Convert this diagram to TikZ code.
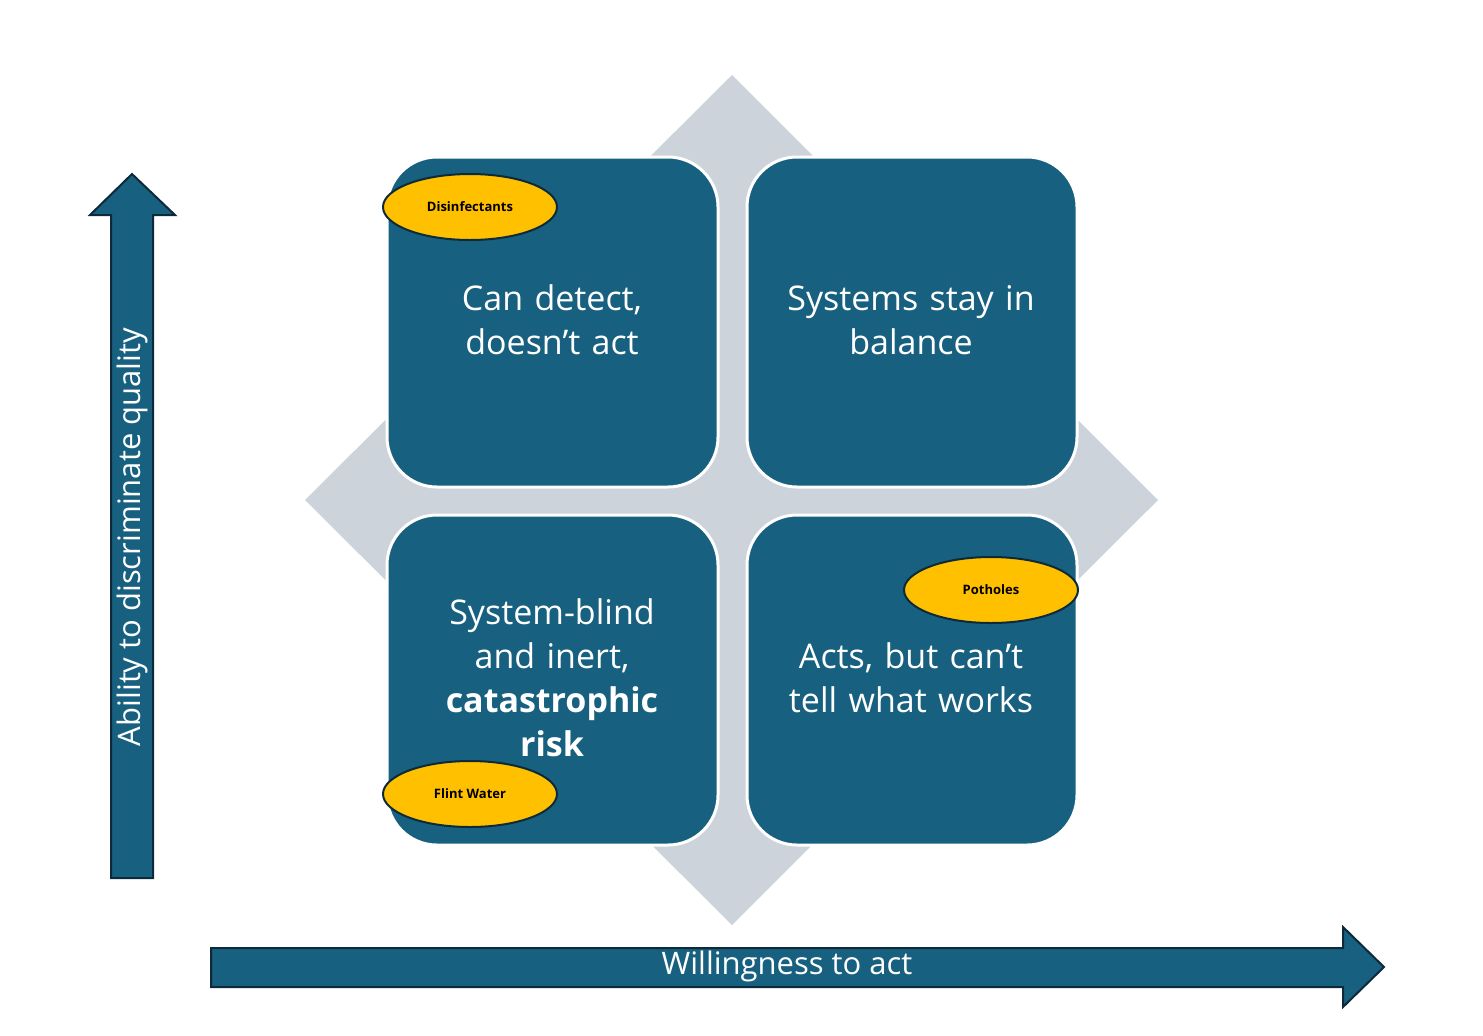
\documentclass[tikz,border=0pt]{standalone}
\usepackage{fontspec}
\setmainfont{Open Sans}
\usetikzlibrary{shapes.geometric}
\definecolor{quadblue}{HTML}{17607F}
\definecolor{diagray}{HTML}{CDD3DA}
\definecolor{tagyellow}{HTML}{FFC000}
\definecolor{edgedark}{HTML}{0D2A3A}
\tikzset{
  quad/.style={fill=quadblue,draw=white,line width=1.5pt,rounded corners=25pt},
  quadtext/.style={text=white,font=\fontsize{17}{22}\selectfont,align=center,text width=150pt},
  tag/.style={ellipse,fill=tagyellow,draw=edgedark,line width=1pt,minimum width=87pt,minimum height=33pt,font=\fontsize{6.5}{8}\selectfont\bfseries,inner sep=0pt},
  axis/.style={fill=quadblue,draw=edgedark,line width=1pt},
  axistext/.style={text=white,font=\fontsize{15.5}{18}\selectfont}
}
\begin{document}
\begin{tikzpicture}[x=0.5pt,y=-0.5pt]
\useasboundingbox (0,0) rectangle (1483,1035);
% background diamond
\fill[diagray] (732,75) -- (1158,500) -- (732,925) -- (305,500) -- cycle;
% quadrants
\draw[quad] (387,157) rectangle (718,487);
\draw[quad] (747,157) rectangle (1077,487);
\draw[quad] (387,515) rectangle (718,845);
\draw[quad] (747,515) rectangle (1077,845);
\node[quadtext] (tl) at (552,320) {Can detect,\\doesn’t act};
\node[quadtext] (tr) at (911,320) {Systems stay in\\balance};
\node[quadtext] (bl) at (552,678) {System-blind\\and inert,\\\textbf{catastrophic}\\\textbf{risk}};
\node[quadtext] (br) at (911,678) {Acts, but can’t\\tell what works};
% tags
\node[tag] (disinf) at (470,207) {Disinfectants};
\node[tag] (flint) at (470,794) {Flint Water};
\node[tag] (pothole) at (991,590) {Potholes};
% axes
\draw[axis] (111,878) -- (111,215) -- (90,215) -- (132,174) -- (175,215) -- (153,215) -- (153,878) -- cycle;
\node[axistext,rotate=90] (ylab) at (132,537) {Ability to discriminate quality};
\draw[axis] (211,948) -- (1343,948) -- (1343,927) -- (1384,967) -- (1343,1007) -- (1343,987) -- (211,987) -- cycle;
\node[axistext] (xlab) at (787,966) {Willingness to act};
\end{tikzpicture}
\end{document}
